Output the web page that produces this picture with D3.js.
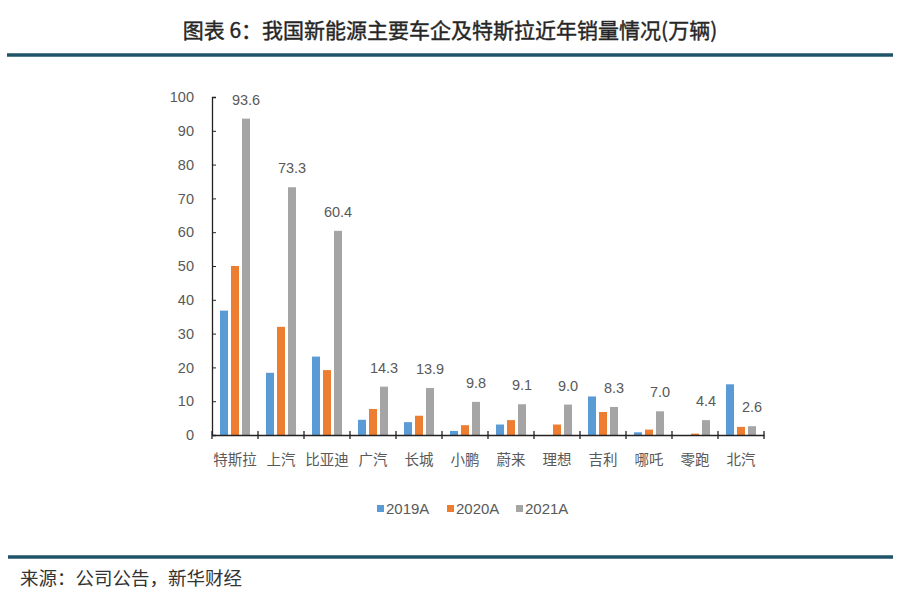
<!DOCTYPE html>
<html>
<head>
<meta charset="utf-8">
<script src="https://cdn.jsdelivr.net/npm/d3@7"></script>
<style>
  html, body { margin: 0; padding: 0; background: #fff; }
  svg { display: block; }
</style>
</head>
<body>
<svg id="chart" width="900" height="600"></svg>
<script>
const categories = ["特斯拉", "上汽", "比亚迪", "广汽", "长城", "小鹏", "蔚来", "理想", "吉利", "哪吒", "零跑", "北汽"];
const seriesNames = ["2019A", "2020A", "2021A"];
const sales2019 = [36.8, 18.4, 23.2, 4.5, 3.8, 1.2, 3.1, 0, 11.4, 0.8, 0, 15.0];
const sales2020 = [50.0, 32.0, 19.2, 7.7, 5.7, 2.9, 4.4, 3.1, 6.8, 1.6, 0.4, 2.4];
const sales2021 = [93.6, 73.3, 60.4, 14.3, 13.9, 9.8, 9.1, 9.0, 8.3, 7.0, 4.4, 2.6];
const yTicks = [0, 10, 20, 30, 40, 50, 60, 70, 80, 90, 100];
const titleText = "图表 6：我国新能源主要车企及特斯拉近年销量情况(万辆)";
const sourceText = "来源：公司公告，新华财经";

const colors = ["#5b9bd5", "#ed7d31", "#a5a5a5"];
const seriesValues = [sales2019, sales2020, sales2021];
const numFont = "'Liberation Sans', Arial, sans-serif";
const cjkFont = "'Noto Sans CJK SC', 'Noto Sans', sans-serif";

const svg = d3.select("#chart");

// Title
svg.append("text")
  .attr("x", 450).attr("y", 38)
  .attr("text-anchor", "middle")
  .attr("font-family", cjkFont)
  .attr("font-size", 21)
  .attr("fill", "#262626")
  .attr("stroke", "#262626")
  .attr("stroke-width", 0.4)
  .text(titleText);

// Header / footer rules
svg.append("line").attr("x1", 7).attr("x2", 893).attr("y1", 55).attr("y2", 55)
  .attr("stroke", "#1f5468").attr("stroke-width", 3.5);
svg.append("line").attr("x1", 8).attr("x2", 893).attr("y1", 557).attr("y2", 557)
  .attr("stroke", "#1f5468").attr("stroke-width", 3.5);

svg.append("text")
  .attr("x", 20).attr("y", 585)
  .attr("font-family", cjkFont)
  .attr("font-size", 18.5)
  .attr("fill", "#333")
  .text(sourceText);

// Plot area
const x0 = 212, x1 = 764, yBottom = 435, yTop = 97;

const x = d3.scaleBand().domain(categories).range([x0, x1]).paddingInner(0).paddingOuter(0);
const y = d3.scaleLinear().domain([0, 100]).range([yBottom, yTop]);

const barW = 8, gap = 3;
const groupW = barW * 3 + gap * 2;
const xs = d3.scaleBand().domain(seriesNames)
  .range([(x.bandwidth() - groupW) / 2, (x.bandwidth() + groupW) / 2])
  .paddingInner(gap / (barW + gap)).paddingOuter(0);

// Bars
seriesNames.forEach((s, si) => {
  svg.append("g").selectAll("rect")
    .data(categories.map((c, i) => ({ c, v: seriesValues[si][i] })))
    .join("rect")
    .attr("x", d => x(d.c) + xs(s))
    .attr("width", xs.bandwidth())
    .attr("y", d => y(d.v))
    .attr("height", d => yBottom - y(d.v))
    .attr("fill", colors[si]);
});

// Data labels for 2021A
svg.append("g").selectAll("text")
  .data(categories.map((c, i) => ({ c, v: sales2021[i] })))
  .join("text")
  .attr("x", d => x(d.c) + xs("2021A") + xs.bandwidth() / 2)
  .attr("y", d => y(d.v) - 14)
  .attr("text-anchor", "middle")
  .attr("font-family", numFont)
  .attr("font-size", 14.5)
  .attr("fill", "#595959")
  .text(d => d.v.toFixed(1));

// Y axis
const yAxis = d3.axisLeft(y).tickValues(yTicks).tickSize(-4).tickPadding(18);
const gy = svg.append("g").attr("transform", `translate(${x0},0)`).call(yAxis);
gy.select(".domain").attr("stroke", "#222").attr("stroke-width", 1.3);
gy.selectAll(".tick line").attr("stroke", "#222");
gy.selectAll(".tick text")
  .attr("font-family", numFont)
  .attr("font-size", 14.5)
  .attr("fill", "#595959");

// X axis
const xAxis = d3.axisBottom(x).tickSize(0).tickPadding(20);
const gx = svg.append("g").attr("transform", `translate(0,${yBottom})`).call(xAxis);
gx.select(".domain").attr("stroke", "#222").attr("stroke-width", 1.5);
gx.selectAll(".tick text")
  .attr("font-family", cjkFont)
  .attr("font-size", 14.5)
  .attr("fill", "#595959");

// Category boundary ticks
const bounds = categories.map(c => x(c)).concat([x1]);
gx.append("g").selectAll("line")
  .data(bounds)
  .join("line")
  .attr("x1", d => d).attr("x2", d => d)
  .attr("y1", -4).attr("y2", 4)
  .attr("stroke", "#222").attr("stroke-width", 1.3);

// Legend
const legendX = [377, 447, 516];
const lg = svg.append("g");
seriesNames.forEach((s, i) => {
  lg.append("rect").attr("x", legendX[i]).attr("y", 505)
    .attr("width", 7).attr("height", 7).attr("fill", colors[i]);
  lg.append("text").attr("x", legendX[i] + 9).attr("y", 514)
    .attr("font-family", numFont).attr("font-size", 15)
    .attr("fill", "#595959").text(s);
});
</script>
</body>
</html>
